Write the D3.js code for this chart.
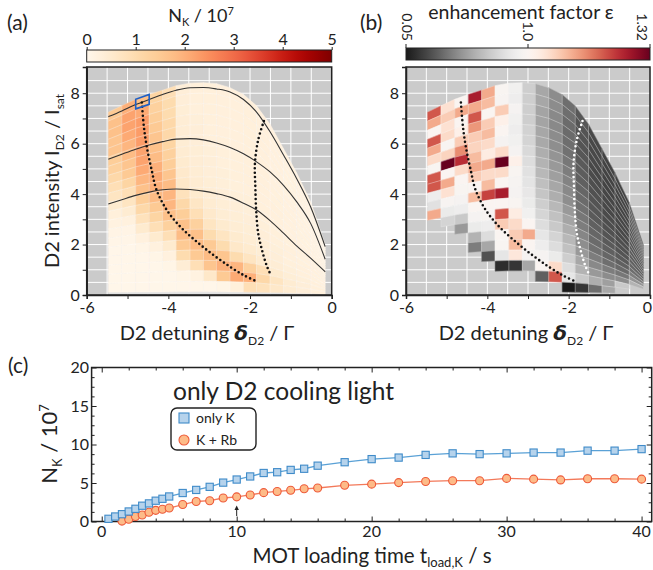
<!DOCTYPE html>
<html lang="en">
<head>
<meta charset="utf-8">
<script src="https://d3js.org/d3.v7.min.js"></script>
<style>
body { margin: 0; background: #fff; }
svg text { font-family: Lato, "DejaVu Sans", sans-serif; fill: #222; }
.axis path, .axis line { stroke: #222; }
.axis text { font-family: Lato, sans-serif; font-size: 16px; fill: #222; }
</style>
</head>
<body>
<svg id="fig" width="653" height="570"></svg>
<script>
// ---- data: detuning scan (panels a, b) ----
// column edges in detuning (units of Gamma)
var colEdges = [-5.47,-5.14,-4.80,-4.47,-4.14,-3.81,-3.47,-3.14,-2.82,-2.49,-2.16,-1.84,-1.51,-1.18,-0.86,-0.51,-0.16];
// max. D2 intensity available at each column edge
var envelope = [7.25,7.5,7.76,7.95,8.12,8.3,8.4,8.42,8.38,8.22,7.95,7.5,6.77,5.8,4.85,3.67,1.98];
// intensity fraction of the rows (bottom to top)
var rowFrac = [0.015,0.064,0.114,0.163,0.212,0.261,0.31,0.36,0.409,0.458,0.507,0.557,0.606,0.655,0.704,0.754,0.803,0.852,0.901,0.951,1.0];

// N_K / 1e7, one list per column, top row first
var nkGrid = [
  [1.5,1.7,1.7,1.6,1.6,1.4,1.3,1.1,0.9,0.7,0.5,0.3,0.2,0.12,0.08,0.06,0.05,0.05,0.05,0.05],
  [2.0,2.2,2.2,2.1,1.9,1.8,1.6,1.5,1.2,0.9,0.7,0.45,0.25,0.12,0.08,0.06,0.05,0.05,0.05,0.05],
  [1.7,2.1,2.3,2.3,2.3,2.2,2.2,2.1,1.9,1.7,1.4,1.1,0.8,0.5,0.25,0.1,0.06,0.05,0.05,0.05],
  [1.2,1.3,1.4,1.5,1.6,1.7,1.8,2.0,2.1,2.0,1.8,1.5,1.2,0.9,0.5,0.25,0.1,0.06,0.05,0.05],
  [0.9,1.0,1.0,1.1,1.1,1.2,1.3,1.4,1.6,1.8,1.9,1.9,1.7,1.3,0.9,0.5,0.25,0.1,0.05,0.05],
  [0.35,0.35,0.38,0.4,0.4,0.42,0.45,0.5,0.55,0.6,0.8,1.1,1.4,1.7,1.8,1.5,1.0,0.4,0.1,0.05],
  [0.3,0.3,0.3,0.32,0.35,0.35,0.38,0.4,0.42,0.45,0.5,0.65,0.9,1.3,1.7,1.8,1.5,0.9,0.2,0.05],
  [0.3,0.3,0.3,0.3,0.3,0.3,0.32,0.35,0.35,0.38,0.4,0.45,0.55,0.7,1.0,1.5,1.8,1.6,0.6,0.06],
  [0.28,0.28,0.28,0.28,0.28,0.3,0.3,0.3,0.32,0.32,0.35,0.38,0.42,0.5,0.7,1.0,1.6,2.0,1.5,0.1],
  [0.28,0.28,0.28,0.28,0.28,0.28,0.3,0.3,0.3,0.3,0.32,0.35,0.38,0.42,0.5,0.6,1.0,1.9,2.1,0.3],
  [0.3,0.3,0.3,0.3,0.3,0.3,0.3,0.3,0.3,0.3,0.32,0.33,0.35,0.38,0.42,0.5,0.7,1.3,2.0,0.9],
  [0.28,0.28,0.28,0.28,0.28,0.28,0.28,0.28,0.28,0.28,0.3,0.3,0.32,0.35,0.38,0.42,0.5,0.9,1.1,0.8],
  [0.25,0.25,0.25,0.25,0.25,0.25,0.25,0.26,0.26,0.27,0.28,0.28,0.3,0.3,0.32,0.35,0.4,0.5,0.7,0.6],
  [0.22,0.22,0.22,0.22,0.22,0.22,0.23,0.23,0.24,0.24,0.25,0.25,0.26,0.27,0.28,0.3,0.32,0.38,0.45,0.45],
  [0.2,0.2,0.2,0.2,0.2,0.2,0.2,0.21,0.21,0.22,0.22,0.23,0.24,0.25,0.26,0.28,0.3,0.32,0.35,0.35],
  [0.2,0.2,0.2,0.2,0.2,0.2,0.2,0.2,0.2,0.21,0.21,0.22,0.22,0.23,0.24,0.25,0.26,0.28,0.3,0.3]
];

// enhancement factor eps, one list per column, top row first (only measured rows)
var epsGrid = [
  [1.2,1.12,1.0,1.2,1.12,1.06,0.98,1.2,1.2,0.9,0.82,1.12],
  [1.05,1.08,1.05,1.06,0.98,1.07,1.32,1.0,1.12,1.05,0.97,0.88,0.75],
  [1.0,1.12,1.0,1.02,1.08,1.15,1.24,1.06,1.0,0.98,0.95,0.9,0.7,0.5],
  [1.26,1.12,1.2,1.14,1.08,1.07,1.1,1.12,1.08,1.0,1.1,1.0,0.95,0.88,0.6,0.4],
  [1.12,1.1,1.0,1.08,1.1,1.06,1.03,1.12,1.06,1.1,1.22,1.0,0.97,0.9,0.8,0.55,0.25],
  [0.98,0.97,1.08,1.02,1.0,0.95,1.06,1.32,1.06,1.0,1.26,1.0,1.2,1.08,1.0,0.98,0.85,0.12],
  [0.92,0.9,0.95,0.92,0.9,0.92,0.95,1.02,0.98,0.96,0.95,0.98,1.03,1.06,1.08,1.1,1.04,0.15],
  [0.72,0.72,0.72,0.72,0.74,0.75,0.78,0.8,0.82,0.84,0.86,0.88,0.92,1.0,1.12,1.0,0.95,0.55],
  [0.55,0.55,0.54,0.54,0.55,0.56,0.58,0.6,0.62,0.65,0.68,0.72,0.76,0.8,0.85,0.9,0.95,1.0,0.3],
  [0.45,0.45,0.44,0.44,0.45,0.46,0.48,0.5,0.52,0.55,0.58,0.62,0.66,0.7,0.75,0.8,0.88,1.06,1.2],
  [0.35,0.35,0.34,0.34,0.35,0.36,0.38,0.4,0.42,0.44,0.46,0.5,0.54,0.58,0.62,0.66,0.72,0.8,0.85,0.05],
  [0.27,0.26,0.26,0.26,0.27,0.28,0.29,0.3,0.32,0.34,0.36,0.38,0.4,0.43,0.46,0.5,0.55,0.6,0.7,0.15],
  [0.22,0.22,0.22,0.22,0.22,0.23,0.24,0.25,0.26,0.27,0.28,0.3,0.32,0.34,0.36,0.4,0.44,0.5,0.58,0.35],
  [0.2,0.2,0.2,0.2,0.2,0.21,0.22,0.22,0.23,0.24,0.25,0.26,0.28,0.3,0.32,0.35,0.4,0.45,0.52,0.55],
  [0.2,0.2,0.2,0.2,0.2,0.21,0.21,0.22,0.22,0.23,0.24,0.25,0.26,0.28,0.3,0.33,0.38,0.45,0.7],
  [0.24,0.24,0.24,0.24,0.24,0.25,0.25,0.26,0.26,0.27,0.28,0.29,0.3,0.32,0.35,0.4,0.48,0.6]
];

// black guide curves of constant relative intensity (panel a), at the column edges
var curveTop = [7.07,7.3,7.55,7.75,7.95,8.12,8.22,8.23,8.17,8.05,7.75,7.25,6.47,5.55,4.62,3.47,1.92];
var curveMid = [5.38,5.58,5.78,5.95,6.08,6.18,6.2,6.15,6.03,5.85,5.6,5.28,4.88,4.35,3.7,2.82,1.42];
var curveLow = [3.61,3.78,3.95,4.08,4.17,4.2,4.18,4.12,4.02,3.88,3.64,3.37,2.95,2.45,1.95,1.45,0.92];

// dotted lines: optimum ridge and second contour [detuning, intensity]
var ridgeDots = [[-4.65,7.63],[-4.6,6.68],[-4.53,5.89],[-4.41,4.96],[-4.29,4.17],[-4.04,3.37],[-3.71,2.71],[-3.31,2.12],[-2.9,1.59],[-2.49,1.12],[-2.16,0.79],[-1.88,0.57]];
var edgeDots = [[-1.66,6.9],[-1.8,6.15],[-1.88,5.22],[-1.87,4.3],[-1.85,3.37],[-1.8,2.45],[-1.71,1.8],[-1.6,1.2],[-1.49,0.79]];

// ---- data: loading curves (panel c) ----
var tOnlyK = [0.5,1,1.5,2,2.5,3,3.5,4,4.5,5,6,7,8,9,10,11,12,13,14,15,16,18,20,22,24,26,28,30,32,34,36,38,40];
var nOnlyK = [0.35,0.65,0.95,1.3,1.65,2.05,2.35,2.7,2.95,3.25,3.7,4.1,4.5,5.05,5.45,5.85,6.3,6.4,6.7,6.85,7.25,7.7,8.1,8.3,8.65,8.85,8.75,8.85,8.95,8.95,9.2,9.2,9.4];
var tKRb = [1.5,2,2.5,3,3.5,4,4.5,5,6,7,8,9,10,11,12,13,14,15,16,18,20,22,24,26,28,30,32,34,36,38,40];
var nKRb = [0.05,0.3,0.65,0.85,1.2,1.45,1.6,1.75,2.2,2.6,2.7,3.05,3.2,3.45,3.75,3.9,4.05,4.25,4.35,4.7,4.85,5.05,5.2,5.3,5.3,5.6,5.5,5.4,5.55,5.55,5.5];

var svg = d3.select("#fig");

var nkColor = d3.scaleSequential(d3.interpolateOrRd).domain([0, 5]);
var epsColor = d3.scaleDiverging(d3.interpolateRdGy).domain([1.32, 1.0, 0.05]);

// ---------- heat-map panels ----------
function makePanel(x0, x1) {
  var x = d3.scaleLinear().domain([-6, 0]).range([x0, x1]);
  var y = d3.scaleLinear().domain([0, 9.04]).range([295, 67]);
  var g = svg.append("g");
  // grey background + white grid
  g.append("rect").attr("x", x0).attr("y", y(9.04)).attr("width", x1 - x0).attr("height", y(0) - y(9.04)).attr("fill", "#cbcbcb");
  g.selectAll(".vg").data(d3.range(-5.5, 0, 0.5)).join("line")
    .attr("x1", d => x(d)).attr("x2", d => x(d)).attr("y1", y(0)).attr("y2", y(9.04))
    .attr("stroke", "#fff").attr("stroke-width", 1);
  g.selectAll(".hg").data(d3.range(0.5, 9, 0.5)).join("line")
    .attr("y1", d => y(d)).attr("y2", d => y(d)).attr("x1", x0).attr("x2", x1)
    .attr("stroke", "#fff").attr("stroke-width", 1);
  return {g: g, x: x, y: y, x0: x0, x1: x1};
}

function cellPath(p, c, k) {
  var pts = [
    [colEdges[c], rowFrac[k] * envelope[c]],
    [colEdges[c + 1], rowFrac[k] * envelope[c + 1]],
    [colEdges[c + 1], rowFrac[k + 1] * envelope[c + 1]],
    [colEdges[c], rowFrac[k + 1] * envelope[c]]
  ];
  return d3.line().x(d => p.x(d[0])).y(d => p.y(d[1]))(pts) + "Z";
}

function drawCells(p, grid, color) {
  var cells = [];
  grid.forEach(function(col, c) {
    col.forEach(function(v, j) { cells.push({c: c, k: 19 - j, v: v}); });
  });
  var cg = p.g.append("g");
  cg.selectAll("path").data(cells).join("path")
    .attr("d", d => cellPath(p, d.c, d.k))
    .attr("fill", d => color(d.v))
    .attr("stroke", d => color(d.v)).attr("stroke-width", 0.4);
  // faint row/column borders
  cg.selectAll(".edge").data(cells).join("path")
    .attr("d", d => cellPath(p, d.c, d.k))
    .attr("fill", "none").attr("stroke", "#fff").attr("stroke-opacity", 0.35).attr("stroke-width", 0.5);
}

function dotted(p, pts, col) {
  p.g.append("path")
    .attr("d", d3.line().x(d => p.x(d[0])).y(d => p.y(d[1])).curve(d3.curveCatmullRom)(pts))
    .attr("fill", "none").attr("stroke", col).attr("stroke-width", 2.6)
    .attr("stroke-linecap", "round").attr("stroke-dasharray", "0 4.4");
}

function frameAxes(p) {
  p.g.append("rect").attr("x", p.x0).attr("y", p.y(9.04)).attr("width", p.x1 - p.x0).attr("height", p.y(0) - p.y(9.04))
    .attr("fill", "none").attr("stroke", "#222").attr("stroke-width", 1.5);
  var ax = p.g.append("g").attr("class", "axis").attr("transform", "translate(0," + p.y(0) + ")")
    .call(d3.axisBottom(p.x).tickValues(d3.range(-6, 1, 1)).tickSize(4).tickPadding(3)
      .tickFormat(d => d % 2 === 0 ? d3.format("d")(d) : ""));
  ax.select(".domain").attr("stroke-width", 1.5);
  ax.selectAll(".tick text").text(d => d % 2 === 0 ? String(d) : "");
  var ay = p.g.append("g").attr("class", "axis").attr("transform", "translate(" + p.x0 + ",0)")
    .call(d3.axisLeft(p.y).tickValues(d3.range(0, 9, 1)).tickSize(4).tickPadding(3)
      .tickFormat(d => d % 2 === 0 ? d : ""));
  ay.select(".domain").attr("stroke-width", 1.5);
  return ax;
}

function detTitle(cx) {
  var t = svg.append("text").attr("x", cx).attr("y", 340).attr("text-anchor", "middle").attr("font-size", 20);
  t.append("tspan").text("D2 detuning ");
  t.append("tspan").text("δ").attr("font-style", "italic").attr("font-weight", "bold").attr("font-family", "DejaVu Sans");
  t.append("tspan").text("D2").attr("font-size", 12).attr("dy", 5);
  t.append("tspan").text(" / Γ").attr("dy", -5);
}

// panel a
var pa = makePanel(86.7, 331.7);
pa.g.append("path")
  .attr("d", function() {
    var top = colEdges.map((e, i) => [e, rowFrac[0] * envelope[i]]);
    var bot = colEdges.map((e, i) => [e, 0.004 * envelope[i]]).reverse();
    return d3.line().x(d => pa.x(d[0])).y(d => pa.y(d[1]))(top.concat(bot)) + "Z";
  })
  .attr("fill", "#e2e2e2");
drawCells(pa, nkGrid, nkColor);
[curveTop, curveMid, curveLow].forEach(function(cv) {
  pa.g.append("path")
    .attr("d", d3.line().x((d, i) => pa.x(colEdges[i])).y(d => pa.y(d)).curve(d3.curveMonotoneX)(cv))
    .attr("fill", "none").attr("stroke", "#333").attr("stroke-width", 1.1);
});
dotted(pa, ridgeDots, "#111");
dotted(pa, edgeDots, "#111");
pa.g.append("path").attr("d", cellPath(pa, 2, 19))
  .attr("fill", "none").attr("stroke", "#1f5fc4").attr("stroke-width", 1.6);
frameAxes(pa);

// panel b
var pb = makePanel(406, 650);
drawCells(pb, epsGrid, epsColor);
dotted(pb, ridgeDots, "#111");
dotted(pb, edgeDots, "#fff");
var axb = frameAxes(pb);
// keep the last label inside the picture
axb.selectAll(".tick text").filter(d => d === 0).attr("dx", -3);

detTitle(207);
detTitle(526);

// y title (a)
var yt = svg.append("text").attr("transform", "translate(59,181) rotate(-90)").attr("text-anchor", "middle").attr("font-size", 20);
yt.append("tspan").text("D2 intensity I");
yt.append("tspan").text("D2").attr("font-size", 12).attr("dy", 5);
yt.append("tspan").text(" / I").attr("dy", -5);
yt.append("tspan").text("sat").attr("font-size", 12).attr("dy", 5);

// ---------- colour bars ----------
var defs = svg.append("defs");
function gradient(id, colorAt) {
  var gr = defs.append("linearGradient").attr("id", id);
  gr.selectAll("stop").data(d3.range(0, 1.001, 0.02)).join("stop")
    .attr("offset", d => d).attr("stop-color", d => colorAt(d));
}
gradient("gradA", t => nkColor(t * 5));
gradient("gradB", t => epsColor(t < 0.5 ? 0.05 + t / 0.5 * 0.95 : 1 + (t - 0.5) / 0.5 * 0.32));

var cbA = d3.scaleLinear().domain([0, 5]).range([86.7, 331.7]);
svg.append("rect").attr("x", 86.7).attr("y", 50).attr("width", 245).attr("height", 12)
  .attr("fill", "url(#gradA)").attr("stroke", "#222").attr("stroke-width", 1);
svg.append("g").attr("class", "axis").attr("transform", "translate(0,50)")
  .call(d3.axisTop(cbA).ticks(5).tickSize(3).tickPadding(2).tickFormat(d3.format("d")))
  .select(".domain").remove();
var ta = svg.append("text").attr("x", 201).attr("y", 22).attr("text-anchor", "middle").attr("font-size", 18);
ta.append("tspan").text("N");
ta.append("tspan").text("K").attr("font-size", 11).attr("dy", 4);
ta.append("tspan").text(" / 10").attr("dy", -4);
ta.append("tspan").text("7").attr("font-size", 11).attr("dy", -7);

svg.append("rect").attr("x", 406).attr("y", 48).attr("width", 244).attr("height", 12)
  .attr("fill", "url(#gradB)").attr("stroke", "#222").attr("stroke-width", 1);
var cbB = [{v: "0.05", x: 406, tx: 407}, {v: "1.0", x: 528, tx: 528}, {v: "1.32", x: 650, tx: 642}];
svg.selectAll(".cbb").data(cbB).join("line")
  .attr("x1", d => d.x).attr("x2", d => d.x).attr("y1", 44).attr("y2", 48).attr("stroke", "#222");
svg.selectAll(".cbbt").data(cbB).join("text")
  .attr("transform", d => "translate(" + d.tx + ",41) rotate(90)")
  .attr("text-anchor", "end").attr("dy", "0.35em").attr("font-size", 14).text(d => d.v);
svg.append("text").attr("x", 521).attr("y", 19).attr("text-anchor", "middle").attr("font-size", 19.5)
  .text("enhancement factor ε");

// panel letters
svg.append("text").attr("x", 7).attr("y", 30).attr("font-size", 21).text("(a)");
svg.append("text").attr("x", 360).attr("y", 30).attr("font-size", 21).text("(b)");
svg.append("text").attr("x", 8).attr("y", 373).attr("font-size", 21).text("(c)");

// ---------- panel c ----------
var xc = d3.scaleLinear().domain([-0.75, 40.75]).range([91.6, 651.7]);
var yc = d3.scaleLinear().domain([0, 20]).range([521.5, 367.5]);
var gc = svg.append("g");
gc.append("rect").attr("x", xc(-0.75)).attr("y", yc(20)).attr("width", xc(40.75) - xc(-0.75)).attr("height", yc(0) - yc(20))
  .attr("fill", "none").attr("stroke", "#222").attr("stroke-width", 1.5);
function inTicks(axisFn, scale, vals, size, tr) {
  var a = gc.append("g").attr("class", "axis").attr("transform", tr)
    .call(axisFn(scale).tickValues(vals).tickSize(size).tickFormat(""));
  a.select(".domain").remove();
}
var xMinor = d3.range(0, 41, 2).filter(d => d % 10 !== 0);
var yMinor = d3.range(0, 20.01, 1.25).filter(d => d % 5 !== 0);
inTicks(d3.axisTop, xc, xMinor, 3, "translate(0," + yc(0) + ")");
inTicks(d3.axisBottom, xc, xMinor, 3, "translate(0," + yc(20) + ")");
inTicks(d3.axisRight, yc, yMinor, 3, "translate(" + xc(-0.75) + ",0)");
inTicks(d3.axisLeft, yc, yMinor, 3, "translate(" + xc(40.75) + ",0)");
inTicks(d3.axisTop, xc, [0, 10, 20, 30, 40], 5, "translate(0," + yc(0) + ")");
inTicks(d3.axisBottom, xc, [0, 10, 20, 30, 40], 5, "translate(0," + yc(20) + ")");
inTicks(d3.axisRight, yc, [0, 5, 10, 15, 20], 5, "translate(" + xc(-0.75) + ",0)");
inTicks(d3.axisLeft, yc, [0, 5, 10, 15, 20], 5, "translate(" + xc(40.75) + ",0)");
gc.selectAll(".xl").data([0, 10, 20, 30, 40]).join("text")
  .attr("x", d => xc(d)).attr("y", 537).attr("text-anchor", "middle").attr("font-size", 16).text(d => d);
gc.selectAll(".yl").data([0, 5, 10, 15, 20]).join("text")
  .attr("x", 89).attr("y", d => yc(d)).attr("dy", "0.35em").attr("text-anchor", "end").attr("font-size", 16).text(d => d);

var kLine = d3.line().x((d, i) => xc(tOnlyK[i])).y(d => yc(d));
var rLine = d3.line().x((d, i) => xc(tKRb[i])).y(d => yc(d));
gc.append("path").attr("d", rLine(nKRb)).attr("fill", "none").attr("stroke", "#f3795a").attr("stroke-width", 1.3);
gc.selectAll(".rb").data(nKRb).join("circle")
  .attr("cx", (d, i) => xc(tKRb[i])).attr("cy", d => yc(d)).attr("r", 4)
  .attr("fill", "#fdbb88").attr("stroke", "#ee5a3a").attr("stroke-width", 1.1);
gc.append("path").attr("d", kLine(nOnlyK)).attr("fill", "none").attr("stroke", "#5aa1d6").attr("stroke-width", 1.3);
gc.selectAll(".k").data(nOnlyK).join("rect")
  .attr("x", (d, i) => xc(tOnlyK[i]) - 3.6).attr("y", d => yc(d) - 3.6).attr("width", 7.2).attr("height", 7.2)
  .attr("fill", "#b6d3ec").attr("stroke", "#3f8bc9").attr("stroke-width", 1.1);

// arrow at t = 10 s
gc.append("line").attr("x1", xc(10)).attr("x2", xc(10)).attr("y1", 516).attr("y2", 509).attr("stroke", "#222").attr("stroke-width", 1);
gc.append("path").attr("d", "M" + (xc(10) - 2.2) + ",510 L" + xc(10) + ",505.5 L" + (xc(10) + 2.2) + ",510 Z").attr("fill", "#222");

gc.append("text").attr("x", 173).attr("y", 400).attr("font-size", 24.5).text("only D2 cooling light");
gc.append("rect").attr("x", 171).attr("y", 408).attr("width", 85).attr("height", 42).attr("rx", 6)
  .attr("fill", "#fff").attr("stroke", "#222").attr("stroke-width", 1.4);
gc.append("rect").attr("x", 179).attr("y", 413).attr("width", 10).attr("height", 10)
  .attr("fill", "#b6d3ec").attr("stroke", "#3f8bc9").attr("stroke-width", 1.1);
gc.append("circle").attr("cx", 184).attr("cy", 440).attr("r", 5)
  .attr("fill", "#fdbb88").attr("stroke", "#ee5a3a").attr("stroke-width", 1.1);
gc.append("text").attr("x", 196).attr("y", 423).attr("font-size", 14).text("only K");
gc.append("text").attr("x", 196).attr("y", 445).attr("font-size", 14).text("K + Rb");

var xt = gc.append("text").attr("x", 372).attr("y", 563).attr("text-anchor", "middle").attr("font-size", 20.5);
xt.append("tspan").text("MOT loading time t");
xt.append("tspan").text("load,K").attr("font-size", 13).attr("dy", 4);
xt.append("tspan").text(" / s").attr("dy", -4);

var yct = gc.append("text").attr("transform", "translate(57,444) rotate(-90)").attr("text-anchor", "middle").attr("font-size", 22);
yct.append("tspan").text("N");
yct.append("tspan").text("K").attr("font-size", 13).attr("dy", 5);
yct.append("tspan").text(" / 10").attr("dy", -5);
yct.append("tspan").text("7").attr("font-size", 13).attr("dy", -8);
</script>
</body>
</html>
